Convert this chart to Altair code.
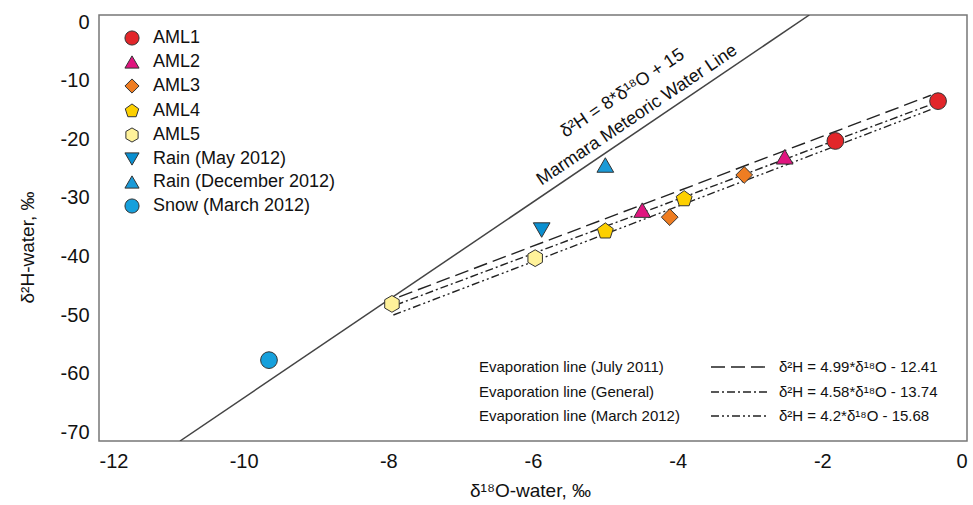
import altair as alt
import pandas as pd

# ---------------- data ----------------
series_names = ["AML1", "AML2", "AML3", "AML4", "AML5",
                "Rain (May 2012)", "Rain (December 2012)", "Snow (March 2012)"]
series_colors = ["#e2262a", "#e0157f", "#ee7d22", "#fdd000", "#fff29a",
                 "#0a8fd0", "#1b9ad7", "#16a0dc"]

point_series = ["AML1", "AML1", "AML2", "AML2", "AML3", "AML3", "AML4", "AML4",
                "AML5", "AML5", "Rain (May 2012)", "Rain (December 2012)",
                "Snow (March 2012)"]
d18O = [-0.40, -1.82, -2.52, -4.49, -3.08, -4.11, -3.91, -5.00, -5.97, -7.95,
        -5.88, -5.00, -9.65]
d2H = [-13.5, -20.3, -23.0, -32.1, -26.1, -33.3, -30.2, -35.7, -40.3, -48.1,
       -35.5, -24.4, -57.7]

evap_names = ["Evaporation line (July 2011)", "Evaporation line (General)",
              "Evaporation line (March 2012)"]
evap_eqs = ["δ²H = 4.99*δ¹⁸O - 12.41", "δ²H = 4.58*δ¹⁸O - 13.74",
            "δ²H = 4.2*δ¹⁸O - 15.68"]
evap_x_start = [-7.85, -7.90, -7.93]
evap_y_start = [-46.9, -48.3, -50.0]
evap_x_end = [-0.50, -0.44, -0.47]
evap_y_end = [-12.5, -13.8, -14.8]

mwl_x = [-10.88, -2.18]
mwl_y = [-71.5, 1.2]
mwl_labels = ["δ²H = 8*δ¹⁸O + 15", "Marmara Meteoric Water Line"]
mwl_label_x = [-4.76, -4.56]
mwl_label_y = [-12.2, -15.9]

x_ticks = [-12, -10, -8, -6, -4, -2, 0]
y_ticks = [-70, -60, -50, -40, -30, -20, -10, 0]

# ---------------- styling ----------------
FONT = "Liberation Sans"
pentagon = "M0,-1L0.951,-0.309L0.588,0.809L-0.588,0.809L-0.951,-0.309Z"
hexagon = "M0,-1L0.866,-0.5L0.866,0.5L0,1L-0.866,0.5L-0.866,-0.5Z"
series_shapes = ["circle", "triangle-up", "diamond", pentagon, hexagon,
                 "triangle-down", "triangle-up", "circle"]
dash_patterns = [[14, 6], [8, 3, 2, 3], [8, 3, 2, 3, 2, 3]]

label_expr = "datum.value < 0 ? '-' + abs(datum.value) : '' + datum.value"

xscale = alt.Scale(domain=[-12, 0], nice=False, zero=False)
yscale = alt.Scale(domain=[-71.5, 1.2], nice=False, zero=False)

xaxis = alt.Axis(values=x_ticks, title="δ¹⁸O-water, ‰", labelExpr=label_expr,
                 titleX=431, titleY=49, titleBaseline="middle", titleAlign="center")
yaxis = alt.Axis(values=y_ticks, title="δ²H-water, ‰", labelExpr=label_expr,
                 titleX=-72, titleY=232, titleAngle=270, titleBaseline="middle",
                 titleAlign="center")

# ---------------- tables ----------------
points_df = pd.DataFrame({"series": point_series, "d18O": d18O, "d2H": d2H})

evap_rows = []
for i, name in enumerate(evap_names):
    evap_rows.append({"line": name, "d18O": evap_x_start[i], "d2H": evap_y_start[i]})
    evap_rows.append({"line": name, "d18O": evap_x_end[i], "d2H": evap_y_end[i]})
evap_df = pd.DataFrame(evap_rows)

mwl_df = pd.DataFrame({"d18O": mwl_x, "d2H": mwl_y})
mwl_text_df = pd.DataFrame({"label": mwl_labels, "d18O": mwl_label_x, "d2H": mwl_label_y})

# ---------------- layers ----------------
evap = alt.Chart(evap_df).mark_line(color="#222", strokeWidth=1.4, clip=True).encode(
    x=alt.X("d18O:Q", scale=xscale, axis=xaxis),
    y=alt.Y("d2H:Q", scale=yscale, axis=yaxis),
    detail="line:N",
    strokeDash=alt.StrokeDash("line:N", scale=alt.Scale(domain=evap_names, range=dash_patterns),
                              legend=None),
)

mwl = alt.Chart(mwl_df).mark_line(color="#444", strokeWidth=1.5, clip=True).encode(
    x=alt.X("d18O:Q", scale=xscale),
    y=alt.Y("d2H:Q", scale=yscale),
)

mwl_text = alt.Chart(mwl_text_df).mark_text(
    angle=326, font=FONT, fontSize=18, color="#111", align="center", baseline="middle"
).encode(
    x=alt.X("d18O:Q", scale=xscale),
    y=alt.Y("d2H:Q", scale=yscale),
    text="label:N",
)

legend_def = alt.Legend(
    title=None, orient="none", legendX=24, legendY=14, padding=0,
    symbolSize=200, symbolStrokeColor="#333", symbolStrokeWidth=1,
    labelFont=FONT, labelFontSize=18, labelColor="#111", rowPadding=5, labelOffset=12,
    labelLimit=0,
)

pts = alt.Chart(points_df).mark_point(
    filled=True, size=280, stroke="#333", strokeWidth=1, opacity=1
).encode(
    x=alt.X("d18O:Q", scale=xscale),
    y=alt.Y("d2H:Q", scale=yscale),
    color=alt.Color("series:N", scale=alt.Scale(domain=series_names, range=series_colors),
                    legend=legend_def),
    shape=alt.Shape("series:N", scale=alt.Scale(domain=series_names, range=series_shapes),
                    legend=legend_def),
)

dummy = alt.Data(values=[{}])
legend_layers = []
row_y = [352, 377, 401]
for i in range(3):
    legend_layers.append(
        alt.Chart(dummy).mark_text(font=FONT, fontSize=15, color="#111", align="left",
                                   baseline="middle", text=evap_names[i])
        .encode(x=alt.value(380), y=alt.value(row_y[i]))
    )
    legend_layers.append(
        alt.Chart(dummy).mark_rule(color="#222", strokeWidth=1.4, strokeDash=dash_patterns[i])
        .encode(x=alt.value(612), x2=alt.value(669), y=alt.value(row_y[i]))
    )
    legend_layers.append(
        alt.Chart(dummy).mark_text(font=FONT, fontSize=15, color="#111", align="left",
                                   baseline="middle", text=evap_eqs[i])
        .encode(x=alt.value(680), y=alt.value(row_y[i]))
    )

chart = alt.layer(evap, mwl, mwl_text, pts, *legend_layers).properties(
    width=868, height=426,
    autosize=alt.AutoSizeParams(type="none"),
    padding={"left": 99, "top": 15, "right": 6, "bottom": 64},
).configure_view(
    stroke="#777", strokeWidth=1.5
).configure_axis(
    grid=False, ticks=False, tickSize=0, domain=False,
    labelFont=FONT, labelFontSize=20, labelColor="#111", labelPadding=10,
    titleFont=FONT, titleFontSize=19, titleColor="#111", titleFontWeight="normal",
)

chart.save("out.html", embed_options={"renderer": "svg", "actions": False})
